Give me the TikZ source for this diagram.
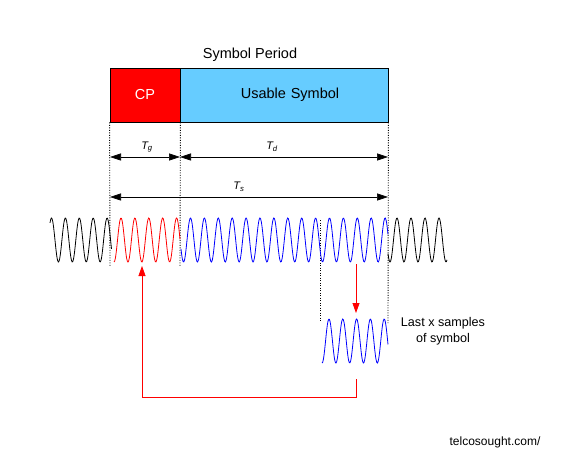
\documentclass[tikz,border=0pt]{standalone}
\usepackage{fontspec}
\setmainfont{Liberation Sans}
\usetikzlibrary{arrows.meta}
\definecolor{cpred}{RGB}{255,0,0}
\definecolor{usblue}{RGB}{102,204,255}
\definecolor{wblue}{RGB}{0,0,255}
\begin{document}
\begin{tikzpicture}[x=1pt,y=-1pt,
  box/.style={draw=black, line width=0.8pt, minimum height=54pt, inner sep=0pt, font=\fontsize{14.5}{16}\selectfont},
  dim/.style={{Triangle[length=11pt,width=7pt]}-{Triangle[length=11pt,width=7pt]}, line width=0.6pt},
  guide/.style={dash pattern=on 1pt off 1.5pt, line width=0.9pt, black},
  wave/.style={line width=0.8pt},
  redarrow/.style={cpred, line width=0.8pt, -{Triangle[length=10pt,width=7pt]}},
  lab/.style={font=\fontsize{11}{12}\selectfont\itshape, inner sep=0pt}]
\useasboundingbox (0,0) rectangle (570,457);
\node[box, fill=cpred, text=white, minimum width=70pt] (cp) at (145,95) {CP};
\node[box, fill=usblue, minimum width=208pt, text width=208pt, align=center] (us) at (284,95) {\hspace*{12pt}Usable Symbol};
\node[font=\fontsize{14.5}{16}\selectfont] (title) at (250,55) {Symbol Period};
% guides
\coordinate (ga) at (110,266);
\coordinate (gb) at (180,266);
\coordinate (gc) at (388,323);
\coordinate (gd1) at (320,220);
\coordinate (gd2) at (320,322);
\draw[guide] (cp.south west) -- (ga);
\draw[guide] (cp.south east) -- (gb);
\draw[guide] (us.south east) -- (gc);
\draw[guide] (gd1) -- (gd2);
% dimensions
\coordinate (t1) at (110,157);
\coordinate (t2) at (180,157);
\coordinate (t3) at (388,157);
\coordinate (s1) at (110,197);
\coordinate (s2) at (388,197);
\draw[dim] (t1) -- (t2);
\draw[dim] (t2) -- (t3);
\draw[dim] (s1) -- (s2);
\node[lab] (tg) at (147,147) {T\textsubscript{g}};
\node[lab] (td) at (272,147) {T\textsubscript{d}};
\node[lab] (ts) at (239,187) {T\textsubscript{s}};
% waves
\draw[wave, black, domain=50:111.5, samples=90, smooth] plot (\x, {240-22*cos((\x-121)/13.9*360)});
\draw[wave, cpred, domain=114:180, samples=100, smooth] plot (\x, {240-22*cos((\x-121)/13.9*360)});
\draw[wave, wblue, domain=181:388, samples=300, smooth] plot (\x, {240-22*cos((\x-121)/13.9*360)});
\draw[wave, black, domain=388:447, samples=90, smooth] plot (\x, {240-22*cos((\x-397)/14*360)});
\draw[wave, wblue, domain=322:388, samples=100, smooth] plot (\x, {341-22*cos((\x-329)/13.8*360)});
% copy arrows
\coordinate (a1) at (356,264);
\coordinate (a2) at (356,313);
\draw[redarrow] (a1) -- (a2);
\coordinate (b1) at (356,379);
\coordinate (b2) at (356,397);
\coordinate (b3) at (142,397);
\coordinate (b4) at (142,266);
\draw[redarrow] (b1) -- (b2) -- (b3) -- (b4);
\node[font=\fontsize{12.6}{16}\selectfont, align=center] (last) at (443,331) {Last x samples\\of symbol};
\node[font=\fontsize{12}{14}\selectfont] (site) at (495,442) {telcosought.com/};
\end{tikzpicture}
\end{document}
